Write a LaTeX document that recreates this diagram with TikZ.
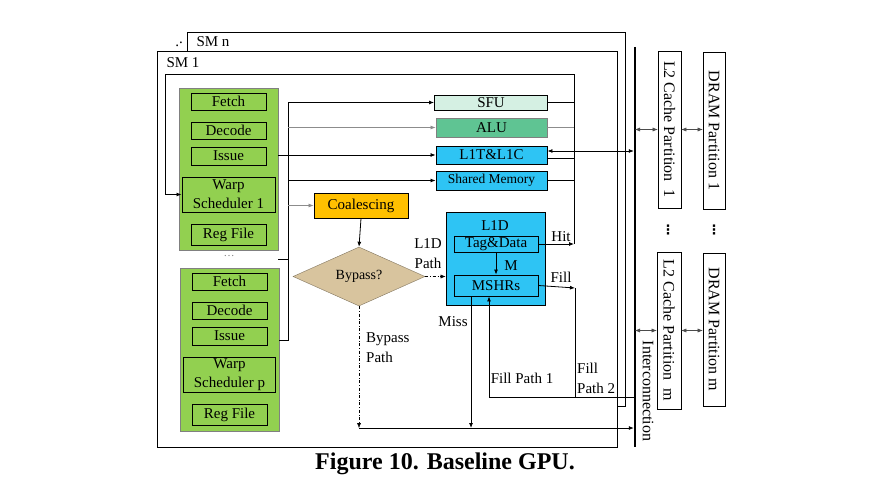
\documentclass[tikz,border=0pt]{standalone}
\usepackage{fontspec,graphicx}
\setmainfont{Liberation Serif}
\newfontfamily\symfont{DejaVu Sans}
\usetikzlibrary{arrows.meta,positioning,shapes.geometric}
\definecolor{Leaf}{HTML}{92D050}
\definecolor{Mint}{HTML}{D5F0E3}
\definecolor{Jade}{HTML}{5FC493}
\definecolor{Sky}{HTML}{2EC4F4}
\definecolor{Gold}{HTML}{FFC000}
\definecolor{Tan}{HTML}{D8C49E}
\newcommand{\bodyfont}{\fontsize{15}{19}\selectfont}

\begin{document}
\begin{tikzpicture}[x=1pt,y=-1pt,>={Latex[length=5pt,width=4pt]},
  every node/.style={font=\bodyfont,inner sep=0pt},
  panel/.style={draw=black!50,fill=Leaf,minimum width=99,minimum height=162},
  stage/.style={draw,line width=0.9pt,fill=Leaf,minimum width=75,minimum height=17},
  unit/.style={draw,line width=0.9pt,minimum width=111,minimum height=19},
  part/.style={draw,line width=0.6pt,minimum width=23,minimum height=157,font=\fontsize{16}{19}\selectfont},
  wire/.style={line width=0.8pt},
  faint/.style={black!45,line width=0.7pt}]
\useasboundingbox(0,0)rectangle(890,486);
% SM frames
\draw[wire](187,32)rectangle(625,406);
\draw[wire,fill=white](157,51)rectangle(617,447);
\node(smn)at(213,42){SM n};
\node(smone)at(183,63){SM 1};
\node(smmore)at(179,44){.\raisebox{3pt}{.}};
% warp pipelines
\node[panel](pa)at(228.5,169){};
\node[stage](fetcha)at(228.5,101.5){Fetch};
\node[stage](decodea)at(228.5,130.5){Decode};
\node[stage,minimum height=18](issuea)at(228.5,156){Issue};
\node[stage,minimum width=93,minimum height=35,align=center](warpa)at(228.5,194.5){Warp\\Scheduler 1};
\node[stage,minimum height=21](rega)at(228.5,234.5){Reg File};
\node[text=black!50,font=\fontsize{11}{13}\selectfont](gap)at(229,256){\dots};
\node[panel,minimum height=163](pp)at(229.5,349.5){};
\node[stage](fetchp)at(229.5,281.5){Fetch};
\node[stage](decodep)at(229.5,310.5){Decode};
\node[stage,minimum height=18](issuep)at(229.5,336){Issue};
\node[stage,minimum width=92,minimum height=35,align=center](warpp)at(229.5,374.5){Warp\\Scheduler p};
\node[stage,minimum height=21](regp)at(229.5,414.5){Reg File};
% execution units
\node[unit,fill=Mint,minimum width=113,minimum height=15](sfu)at(491,102.5){SFU};
\node[unit,fill=Jade,draw=black!50](alu)at(491.5,127.5){ALU};
\node[unit,fill=Sky,minimum height=18](lonet)at(491.5,155){L1T\&L1C};
\node[unit,fill=Sky,font=\fontsize{13.5}{16}\selectfont](shmem)at(491.5,180.5){Shared Memory};
% memory path
\node[draw,line width=0.9pt,fill=Gold,minimum width=94,minimum height=25](coal)at(361,205.5){Coalescing};
\node[diamond,draw=Tan!60!black,fill=Tan,minimum width=132,minimum height=59,font=\fontsize{14}{16}\selectfont](bypass)at(359,276.5){Bypass?};
\node[draw,line width=0.9pt,fill=Sky,minimum width=99,minimum height=93](lone)at(495.5,259){};
\node(lonelab)at(495,226){L1D};
\node[draw,line width=0.9pt,minimum width=84,minimum height=16](tag)at(496,244){Tag\&Data};
\node[draw,line width=0.9pt,minimum width=84,minimum height=21](mshr)at(496,285.5){MSHRs};
% interconnection and partitions
\coordinate(icT)at(635,47);\coordinate(icB)at(635,447);
\draw[line width=2.5pt](icT)--(icB);
\node[font=\fontsize{16}{19}\selectfont](iclab)at(648,391){\rotatebox{-90}{Interconnection}};
\node[part](ltwoa)at(669.5,129.5){\rotatebox{-90}{L2 Cache Partition\ \ 1}};
\node[part,minimum width=22](drama)at(714,130.5){\rotatebox{-90}{DRAM Partition 1}};
\node[part,minimum width=24](ltwom)at(669,330.5){\rotatebox{-90}{L2 Cache Partition\ \ m}};
\node[part,minimum width=22,minimum height=153](dramm)at(714,329.5){\rotatebox{-90}{DRAM Partition m}};
\node[font=\symfont\bfseries\fontsize{13}{15}\selectfont](dotsl)at(668,230){⋮};
\node[font=\symfont\bfseries\fontsize{13}{15}\selectfont](dotsd)at(714,230){⋮};
\draw[<->,black!70](ltwoa.west-|icT)--(ltwoa.west);
\draw[<->,black!70](ltwoa.east)--(ltwoa.east-|drama.west);
\draw[<->,black!70](ltwom.west-|icT)--(ltwom.west);
\draw[<->,black!70](ltwom.east)--(ltwom.east-|dramm.west);
% issue bus
\coordinate(busT)at(288,102.5);\coordinate(busB)at(288,340);\coordinate(stub)at(288,259);
\draw[wire](pp.east|-busB)--(busB)--(busT);
\draw[wire](stub)--(stub-|pa.east);
\draw[wire,->](busT)--(sfu.west);
\draw[faint,->](alu.west-|busT)--(alu.west);
\draw[wire,->](pa.east|-lonet.west)--(lonet.west);
\draw[wire,->](shmem.west-|busT)--(shmem.west);
\draw[faint,->](coal.west-|busT)--(coal.west);
% write-back loop
\coordinate(wbT)at(574,74);\coordinate(loopL)at(165,74);
\draw[wire,->](tag.east-|wbT)--(wbT)--(loopL)|-(warpa.west);
\draw[wire](sfu.east)--(sfu.east-|wbT);
\draw[faint](alu.east)--(alu.east-|wbT);
\draw[wire]([yshift=-3pt]lonet.east)--([yshift=-3pt]lonet.east-|wbT);
\draw[wire](shmem.east)--(shmem.east-|wbT);
\draw[wire,<->,shorten >=1.2pt]([yshift=4pt]lonet.east)--([yshift=4pt]lonet.east-|icT);
% L1D paths
\draw[wire,->](coal.south)--(bypass.north);
\draw[->,dash dot](bypass.east)--(bypass.east-|lone.west);
\draw[wire,->](tag.south)--(mshr.north);
\draw[wire,->](tag.east)--(tag.east-|wbT);
\coordinate(fillE)at(575,288);\coordinate(fpath)at(575,397);\coordinate(drain)at(359,428);
\draw[wire,->](mshr.east)--(fillE);
\draw[wire](fpath)--(fillE);
\draw[wire,->](fpath-|icT)--([xshift=-7pt]mshr.south|-fpath)--([xshift=-7pt]mshr.south);
\draw[->,dash dot](bypass.south)--(drain);
\draw[wire,->]([xshift=-25pt]mshr.south)--([xshift=-25pt]mshr.south|-drain);
\draw[wire,->,shorten >=1.2pt](drain)--(drain-|icT);
% labels
\node(hit)at(561,237){Hit};
\node(fill)at(561,277){Fill};
\node(mlab)at(511,266){M};
\node[align=center,font=\fontsize{15}{20}\selectfont](lonepath)at(428,254){L1D\\Path};
\node[align=left,anchor=west,font=\fontsize{15}{20}\selectfont](bypath)at(366,348){Bypass\\Path};
\node(miss)at(453,322){Miss};
\node(fpone)at(522,378){Fill Path 1};
\node[align=left,anchor=west,font=\fontsize{15}{20}\selectfont](fptwo)at(577,378){Fill\\Path 2};
\node[font=\bfseries\fontsize{24}{28}\selectfont](caption)at(445,464){Figure 10. Baseline GPU.};
\end{tikzpicture}
\end{document}
